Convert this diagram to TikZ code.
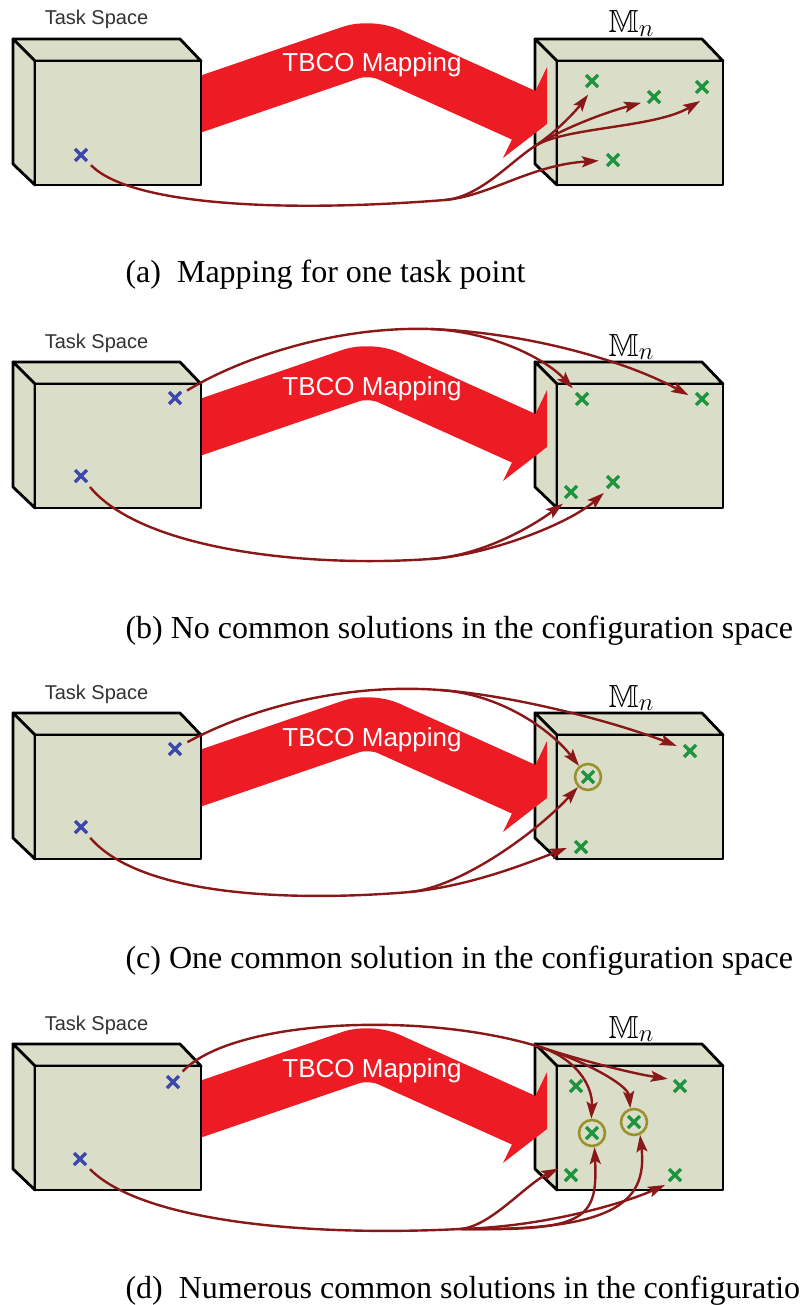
\documentclass[tikz,border=0pt]{standalone}
\usepackage{fontspec}
\usepackage{amssymb}
\setmainfont{Liberation Serif}
\setsansfont{Liberation Sans}
\usetikzlibrary{arrows.meta}

\definecolor{boxfill}{RGB}{218,222,200}
\definecolor{mapred}{RGB}{237,28,36}
\definecolor{curvered}{RGB}{139,24,24}
\definecolor{taskblue}{RGB}{60,72,172}
\definecolor{crossgreen}{RGB}{30,148,62}
\definecolor{sololive}{RGB}{152,146,44}
\definecolor{labelgray}{RGB}{50,50,50}

\begin{document}
\begin{tikzpicture}[x=1pt,y=-1pt,
  cube/.style={draw=black,fill=boxfill,line width=2.8pt,line join=round},
  band/.style={draw=mapred,line width=54pt,rounded corners=20pt},
  xcross/.style={circle,inner sep=0pt,minimum size=28pt,
    path picture={\draw[#1,line width=3.3pt]
      ([shift={(-6pt,-6pt)}]path picture bounding box.center) -- ([shift={(6pt,6pt)}]path picture bounding box.center)
      ([shift={(-6pt,6pt)}]path picture bounding box.center) -- ([shift={(6pt,-6pt)}]path picture bounding box.center);}},
  taskpt/.style={xcross=taskblue},
  confpt/.style={xcross=crossgreen},
  solpt/.style={xcross=crossgreen,draw=sololive,line width=2.6pt,minimum size=26pt},
  trunk/.style={draw=curvered,line width=2.4pt},
  maparrow/.style={trunk,-{Stealth[length=17pt,width=11pt,inset=3.5pt]}},
  spacelabel/.style={anchor=base,text=labelgray,font=\sffamily\fontsize{20}{24}\selectfont},
  maplabel/.style={anchor=base,text=white,font=\sffamily\fontsize{26}{30}\selectfont},
  conflabel/.style={anchor=base west,font=\fontsize{32}{36}\selectfont},
  subcap/.style={anchor=base west,font=\rmfamily\fontsize{32}{38}\selectfont}]
\path[fill=white,use as bounding box] (0,0) rectangle (800,1305);

\foreach \dy/\p in {0/a,323/b,674/c,1005/d} {
\begin{scope}[shift={(0,\dy)}]
\draw[cube] (535,39) -- (702,39) -- (723,61) -- (557,61) -- cycle;
\draw[cube] (535,39) -- (557,61) -- (557,185) -- (535,164) -- cycle;
\draw[cube] (557,61) rectangle (723,185);
\draw[band] (150,121.5) -- (370,46) -- (527,116.7);
\fill[mapred] (547,67) -- (547,124) -- (503,158) -- cycle;
\node[maplabel] (map\p) at (372,72) {TBCO Mapping};
\draw[cube] (13,39) -- (180,39) -- (201,61) -- (35,61) -- cycle;
\draw[cube] (13,39) -- (35,61) -- (35,185) -- (13,164) -- cycle;
\draw[cube] (35,61) rectangle (201,185);
\node[spacelabel] (task\p) at (96.5,25) {Task Space};
\node[conflabel] (conf\p) at (605,33) {$\mathbb{M}_{\textstyle n}$};
\end{scope}
}

\node[subcap] (capa) at (122,283) {(a)\hspace{0.5em}Mapping for one task point};
\node[subcap] (capb) at (122,638) {(b) No common solutions in the configuration space};
\node[subcap] (capc) at (122,968) {(c) One common solution in the configuration space};
\node[subcap] (capd) at (122,1298) {(d)\hspace{0.5em}Numerous common solutions in the configuratio};

\begin{scope}[shift={(0,0)}]
\node[taskpt] (at1) at (81,155) {};
\node[confpt] (ag1) at (592,81) {};
\node[confpt] (ag2) at (654,97) {};
\node[confpt] (ag3) at (702,87) {};
\node[confpt] (ag4) at (613,160) {};
\coordinate (afork1) at (445,200);
\coordinate (afork2) at (535,146);
\draw[trunk] (at1) .. controls (130,205) and (280,213) .. (afork1) .. controls (480,197) and (510,162) .. (afork2);
\draw[maparrow] (afork1) .. controls (490,196) and (530,165) .. (ag4.183);
\draw[maparrow] (afork2) .. controls (555,133) and (575,112) .. (ag1.-106);
\draw[maparrow] (afork2) .. controls (560,130) and (600,114) .. (ag2.204);
\draw[maparrow] (afork2) .. controls (565,127) and (655,128) .. (ag3.-98);
\end{scope}

\begin{scope}[shift={(0,323)}]
\node[taskpt] (bt1) at (81,153) {};
\node[taskpt] (bt2) at (175,75) {};
\node[confpt] (bg1) at (582,76) {};
\node[confpt] (bg2) at (702,76) {};
\node[confpt] (bg3) at (571,169) {};
\node[confpt] (bg4) at (613,159) {};
\coordinate (bfork1) at (430,6);
\coordinate (bfork2) at (430,236);
\draw[trunk] (bt2) .. controls (235,38) and (330,3) .. (bfork1);
\draw[maparrow] (bfork1) .. controls (490,8) and (545,35) .. (bg1.131);
\draw[maparrow] (bfork1) .. controls (520,9) and (620,35) .. (bg2.164);
\draw[trunk] (bt1) .. controls (140,225) and (300,245) .. (bfork2);
\draw[maparrow] (bfork2) .. controls (480,233) and (530,205) .. (bg3.235);
\draw[maparrow] (bfork2) .. controls (490,232) and (570,200) .. (bg4.230);
\end{scope}

\begin{scope}[shift={(0,674)}]
\node[taskpt] (ct1) at (81,153) {};
\node[taskpt] (ct2) at (175,75) {};
\node[solpt] (cs) at (588,103) {};
\node[confpt] (cg2) at (690,77) {};
\node[confpt] (cg3) at (581,173) {};
\coordinate (cfork1) at (440,16);
\coordinate (cfork2) at (410,218);
\draw[trunk] (ct2) .. controls (235,42) and (330,8) .. (cfork1);
\draw[maparrow] (cfork1) .. controls (500,20) and (550,55) .. (cs.129);
\draw[maparrow] (cfork1) .. controls (520,22) and (620,50) .. (cg2.159);
\draw[trunk] (ct1) .. controls (140,222) and (290,228) .. (cfork2);
\draw[maparrow] (cfork2) .. controls (470,212) and (525,190) .. (cg3.184);
\draw[maparrow] (cfork2) .. controls (460,213) and (535,160) .. (cs.225);
\end{scope}

\begin{scope}[shift={(0,1005)}]
\node[taskpt] (dt1) at (80,154) {};
\node[taskpt] (dt2) at (173,77) {};
\node[confpt] (dg1) at (576,81) {};
\node[confpt] (dg2) at (680,81) {};
\node[confpt] (dg3) at (571,170) {};
\node[confpt] (dg4) at (675,170) {};
\node[solpt] (ds1) at (592,128) {};
\node[solpt] (ds2) at (634,117) {};
\coordinate (dfork1) at (540,42);
\coordinate (dfork2) at (460,224);
\draw[trunk] (dt2) .. controls (230,15) and (420,5) .. (dfork1);
\draw[maparrow] (dfork1) .. controls (580,55) and (630,68) .. (dg2.150);
\draw[maparrow] (dfork1) .. controls (575,53) and (593,80) .. (ds1.93);
\draw[maparrow] (dfork1) .. controls (585,56) and (628,80) .. (ds2.105);
\draw[trunk] (dt1) .. controls (140,215) and (300,232) .. (dfork2);
\draw[maparrow] (dfork2) .. controls (490,222) and (525,180) .. (dg3.153);
\draw[maparrow] (dfork2) .. controls (585,226) and (598,215) .. (ds1.-80);
\draw[maparrow] (dfork2) .. controls (610,226) and (648,200) .. (ds2.-65);
\draw[maparrow] (dfork2) .. controls (540,222) and (620,200) .. (dg4.225);
\end{scope}
\end{tikzpicture}
\end{document}
